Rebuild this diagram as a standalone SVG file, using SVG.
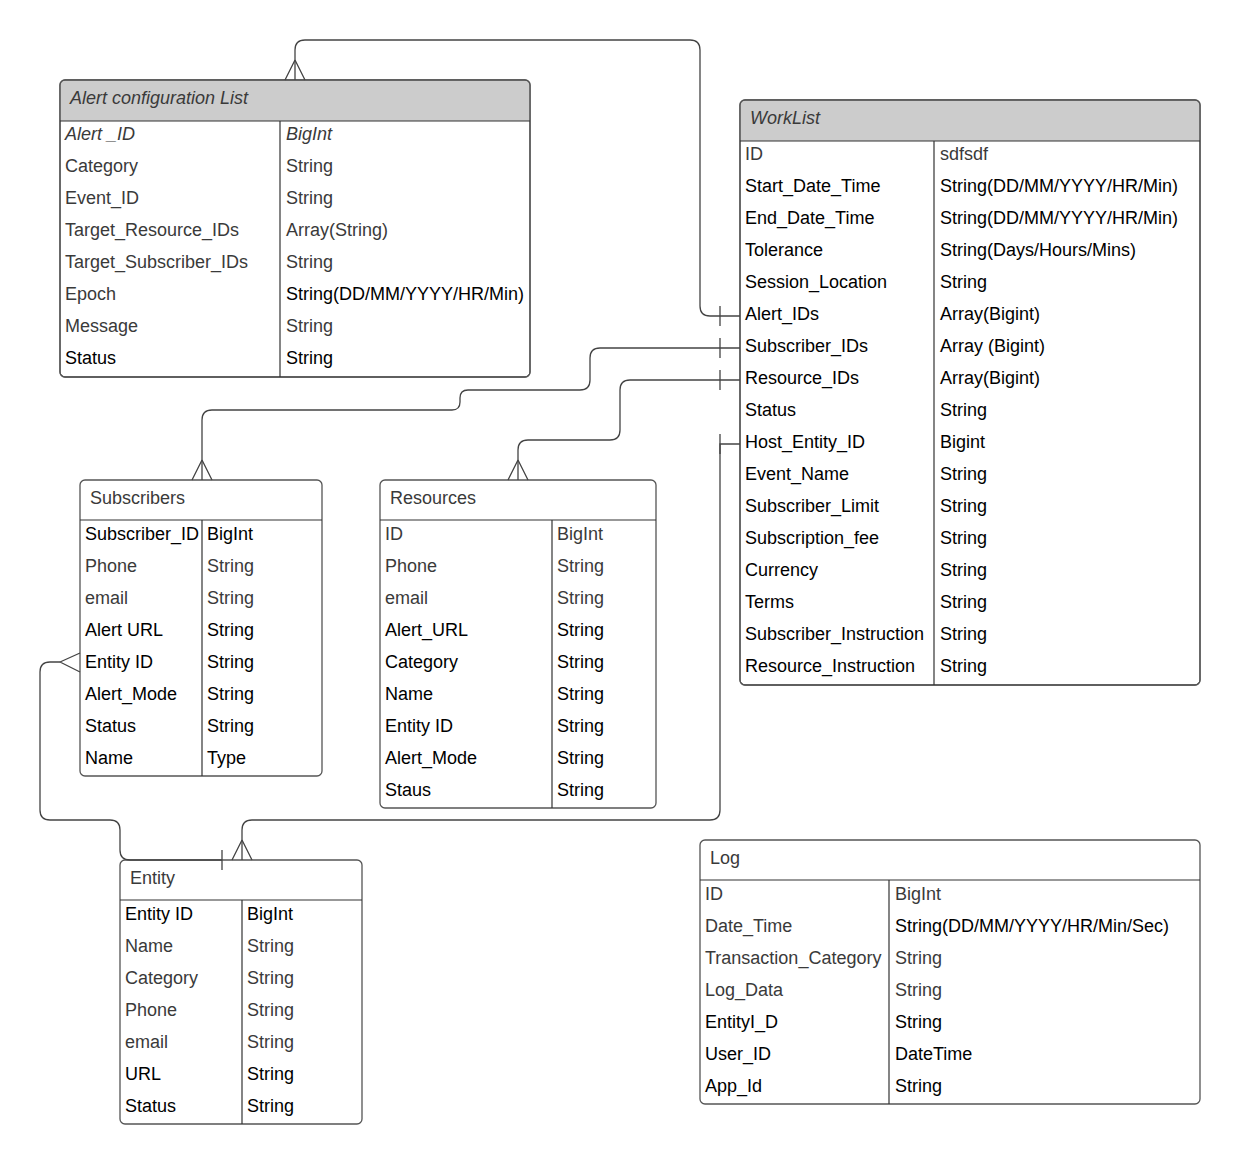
<svg xmlns="http://www.w3.org/2000/svg" width="1241" height="1165" viewBox="0 0 1241 1165">
<style>
text{font-family:"Liberation Sans",Arial,sans-serif;font-size:18px}
.k{fill:#000}
.g{fill:#3a3a3a}
.i{font-style:italic}
.box{fill:#fff;stroke:#555;stroke-width:1.3}
.hdr{fill:#ccc;stroke:none}
.ln{stroke:#333;stroke-width:1.2;fill:none}
.c{stroke:#444;stroke-width:1.3;fill:none}
</style>
<rect width="1241" height="1165" fill="#fff"/>

<g id="alert-configuration-list">
  <rect class="box" x="60" y="80" width="470" height="297" rx="5"/>
  <path class="hdr" d="M60.7,121 V85 Q60.7,80.7 65,80.7 H525 Q529.3,80.7 529.3,85 V121 Z"/>
  <rect x="60" y="80" width="470" height="297" rx="5" fill="none" stroke="#555" stroke-width="1.3"/>
  <line class="ln" x1="60" y1="121" x2="530" y2="121"/>
  <line class="ln" x1="280" y1="121" x2="280" y2="377"/>
  <text class="g i" x="70" y="104">Alert configuration List</text>
  <text class="g i" x="65" y="140">Alert _ID</text><text class="g i" x="286" y="140">BigInt</text>
  <text class="g" x="65" y="172">Category</text><text class="g" x="286" y="172">String</text>
  <text class="g" x="65" y="204">Event_ID</text><text class="g" x="286" y="204">String</text>
  <text class="g" x="65" y="236">Target_Resource_IDs</text><text class="g" x="286" y="236">Array(String)</text>
  <text class="g" x="65" y="268">Target_Subscriber_IDs</text><text class="g" x="286" y="268">String</text>
  <text class="g" x="65" y="300">Epoch</text><text class="k" x="286" y="300">String(DD/MM/YYYY/HR/Min)</text>
  <text class="g" x="65" y="332">Message</text><text class="g" x="286" y="332">String</text>
  <text class="k" x="65" y="364">Status</text><text class="k" x="286" y="364">String</text>
</g>

<g id="worklist">
  <rect class="box" x="740" y="100" width="460" height="585" rx="5"/>
  <path class="hdr" d="M740.7,141 V105 Q740.7,100.7 745,100.7 H1195 Q1199.3,100.7 1199.3,105 V141 Z"/>
  <rect x="740" y="100" width="460" height="585" rx="5" fill="none" stroke="#555" stroke-width="1.3"/>
  <line class="ln" x1="740" y1="141" x2="1200" y2="141"/>
  <line class="ln" x1="934" y1="141" x2="934" y2="685"/>
  <text class="g i" x="750" y="124">WorkList</text>
  <text class="g" x="745" y="160">ID</text><text class="g" x="940" y="160">sdfsdf</text>
  <text class="k" x="745" y="192">Start_Date_Time</text><text class="k" x="940" y="192">String(DD/MM/YYYY/HR/Min)</text>
  <text class="k" x="745" y="224">End_Date_Time</text><text class="k" x="940" y="224">String(DD/MM/YYYY/HR/Min)</text>
  <text class="k" x="745" y="256">Tolerance</text><text class="k" x="940" y="256">String(Days/Hours/Mins)</text>
  <text class="k" x="745" y="288">Session_Location</text><text class="k" x="940" y="288">String</text>
  <text class="k" x="745" y="320">Alert_IDs</text><text class="k" x="940" y="320">Array(Bigint)</text>
  <text class="k" x="745" y="352">Subscriber_IDs</text><text class="k" x="940" y="352">Array (Bigint)</text>
  <text class="k" x="745" y="384">Resource_IDs</text><text class="k" x="940" y="384">Array(Bigint)</text>
  <text class="k" x="745" y="416">Status</text><text class="k" x="940" y="416">String</text>
  <text class="k" x="745" y="448">Host_Entity_ID</text><text class="k" x="940" y="448">Bigint</text>
  <text class="k" x="745" y="480">Event_Name</text><text class="k" x="940" y="480">String</text>
  <text class="k" x="745" y="512">Subscriber_Limit</text><text class="k" x="940" y="512">String</text>
  <text class="k" x="745" y="544">Subscription_fee</text><text class="k" x="940" y="544">String</text>
  <text class="k" x="745" y="576">Currency</text><text class="k" x="940" y="576">String</text>
  <text class="k" x="745" y="608">Terms</text><text class="k" x="940" y="608">String</text>
  <text class="k" x="745" y="640">Subscriber_Instruction</text><text class="k" x="940" y="640">String</text>
  <text class="k" x="745" y="672">Resource_Instruction</text><text class="k" x="940" y="672">String</text>
</g>

<g id="subscribers">
  <rect class="box" x="80" y="480" width="242" height="296" rx="5"/>
  <line class="ln" x1="80" y1="520" x2="322" y2="520"/>
  <line class="ln" x1="202" y1="520" x2="202" y2="776"/>
  <text class="g" x="90" y="504">Subscribers</text>
  <text class="k" x="85" y="540">Subscriber_ID</text><text class="k" x="207" y="540">BigInt</text>
  <text class="g" x="85" y="572">Phone</text><text class="g" x="207" y="572">String</text>
  <text class="g" x="85" y="604">email</text><text class="g" x="207" y="604">String</text>
  <text class="k" x="85" y="636">Alert URL</text><text class="k" x="207" y="636">String</text>
  <text class="k" x="85" y="668">Entity ID</text><text class="k" x="207" y="668">String</text>
  <text class="k" x="85" y="700">Alert_Mode</text><text class="k" x="207" y="700">String</text>
  <text class="k" x="85" y="732">Status</text><text class="k" x="207" y="732">String</text>
  <text class="k" x="85" y="764">Name</text><text class="k" x="207" y="764">Type</text>
</g>

<g id="resources">
  <rect class="box" x="380" y="480" width="276" height="328" rx="5"/>
  <line class="ln" x1="380" y1="520" x2="656" y2="520"/>
  <line class="ln" x1="552" y1="520" x2="552" y2="808"/>
  <text class="g" x="390" y="504">Resources</text>
  <text class="g" x="385" y="540">ID</text><text class="g" x="557" y="540">BigInt</text>
  <text class="g" x="385" y="572">Phone</text><text class="g" x="557" y="572">String</text>
  <text class="g" x="385" y="604">email</text><text class="g" x="557" y="604">String</text>
  <text class="k" x="385" y="636">Alert_URL</text><text class="k" x="557" y="636">String</text>
  <text class="k" x="385" y="668">Category</text><text class="k" x="557" y="668">String</text>
  <text class="k" x="385" y="700">Name</text><text class="k" x="557" y="700">String</text>
  <text class="k" x="385" y="732">Entity ID</text><text class="k" x="557" y="732">String</text>
  <text class="k" x="385" y="764">Alert_Mode</text><text class="k" x="557" y="764">String</text>
  <text class="k" x="385" y="796">Staus</text><text class="k" x="557" y="796">String</text>
</g>

<g id="entity">
  <rect class="box" x="120" y="860" width="242" height="264" rx="5"/>
  <line class="ln" x1="120" y1="900" x2="362" y2="900"/>
  <line class="ln" x1="242" y1="900" x2="242" y2="1124"/>
  <text class="g" x="130" y="884">Entity</text>
  <text class="k" x="125" y="920">Entity ID</text><text class="k" x="247" y="920">BigInt</text>
  <text class="g" x="125" y="952">Name</text><text class="g" x="247" y="952">String</text>
  <text class="g" x="125" y="984">Category</text><text class="g" x="247" y="984">String</text>
  <text class="g" x="125" y="1016">Phone</text><text class="g" x="247" y="1016">String</text>
  <text class="g" x="125" y="1048">email</text><text class="g" x="247" y="1048">String</text>
  <text class="k" x="125" y="1080">URL</text><text class="k" x="247" y="1080">String</text>
  <text class="k" x="125" y="1112">Status</text><text class="k" x="247" y="1112">String</text>
</g>

<g id="log">
  <rect class="box" x="700" y="840" width="500" height="264" rx="5"/>
  <line class="ln" x1="700" y1="880" x2="1200" y2="880"/>
  <line class="ln" x1="889" y1="880" x2="889" y2="1104"/>
  <text class="g" x="710" y="864">Log</text>
  <text class="g" x="705" y="900">ID</text><text class="g" x="895" y="900">BigInt</text>
  <text class="g" x="705" y="932">Date_Time</text><text class="k" x="895" y="932">String(DD/MM/YYYY/HR/Min/Sec)</text>
  <text class="g" x="705" y="964">Transaction_Category</text><text class="g" x="895" y="964">String</text>
  <text class="g" x="705" y="996">Log_Data</text><text class="g" x="895" y="996">String</text>
  <text class="k" x="705" y="1028">EntityI_D</text><text class="k" x="895" y="1028">String</text>
  <text class="k" x="705" y="1060">User_ID</text><text class="k" x="895" y="1060">DateTime</text>
  <text class="k" x="705" y="1092">App_Id</text><text class="k" x="895" y="1092">String</text>
</g>

<g id="connectors">
  <path class="c" d="M740,316 H710 Q700,316 700,306 V50 Q700,40 690,40 H305 Q295,40 295,50 V80"/>
  <path class="c" d="M720,306 V326 M295,60 L285,80 M295,60 L305,80"/>
  <path class="c" d="M740,348 H600 Q590,348 590,358 V380 Q590,390 580,390 H468 Q460,390 460,398 V402 Q460,410 452,410 H212 Q202,410 202,420 V480"/>
  <path class="c" d="M720,338 V358 M202,460 L192,480 M202,460 L212,480"/>
  <path class="c" d="M740,380 H630 Q620,380 620,390 V430 Q620,440 610,440 H528 Q518,440 518,450 V480"/>
  <path class="c" d="M720,370 V390 M518,460 L508,480 M518,460 L528,480"/>
  <path class="c" d="M740,444 H720 V810 Q720,820 710,820 H252 Q242,820 242,830 V860"/>
  <path class="c" d="M720,434 V454 M242,840 L232,860 M242,840 L252,860"/>
  <path class="c" d="M222,860 H130 Q120,860 120,850 V830 Q120,820 110,820 H50 Q40,820 40,810 V672 Q40,662 50,662 H60"/>
  <path class="c" d="M222,850 V870 M60,662 L80,653 M60,662 L80,672"/>
</g>
</svg>
